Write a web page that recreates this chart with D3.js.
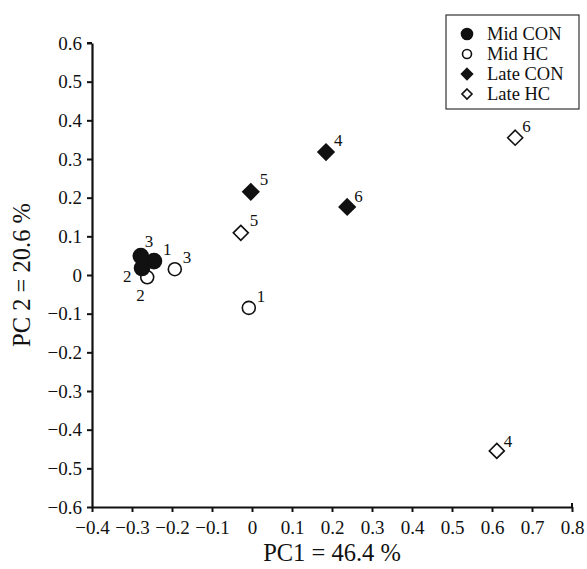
<!DOCTYPE html>
<html>
<head>
<meta charset="utf-8">
<script src="https://cdn.jsdelivr.net/npm/d3@7"></script>
<style>
  body { margin: 0; background: #fff; }
  text { font-family: "Liberation Serif", "Times New Roman", serif; fill: #111; }
</style>
</head>
<body>
<svg id="chart" width="587" height="569"></svg>
<script>
// Series: PC1, PC2 scores with sample labels
const midCon = [
  { x: -0.278, y: 0.049, label: '3', dx: 4, dy: -9 },
  { x: -0.245, y: 0.036, label: '1', dx: 9, dy: -6 },
  { x: -0.275, y: 0.018, label: '2', dx: -19, dy: 14 }
];
const midHc = [
  { x: -0.262, y: -0.006, label: '2', dx: -11, dy: 24 },
  { x: -0.193, y: 0.015, label: '3', dx: 8, dy: -6 },
  { x: -0.008, y: -0.085, label: '1', dx: 8, dy: -6 }
];
const lateCon = [
  { x: 0.185, y: 0.318, label: '4', dx: 8, dy: -6 },
  { x: -0.003, y: 0.215, label: '5', dx: 9, dy: -7 },
  { x: 0.238, y: 0.176, label: '6', dx: 7, dy: -5 }
];
const lateHc = [
  { x: -0.028, y: 0.109, label: '5', dx: 9, dy: -7 },
  { x: 0.658, y: 0.355, label: '6', dx: 7, dy: -6 },
  { x: 0.612, y: -0.455, label: '4', dx: 7, dy: -4 }
];
const xTicks = [-0.4, -0.3, -0.2, -0.1, 0, 0.1, 0.2, 0.3, 0.4, 0.5, 0.6, 0.7, 0.8];
const yTicks = [0.6, 0.5, 0.4, 0.3, 0.2, 0.1, 0, -0.1, -0.2, -0.3, -0.4, -0.5, -0.6];
const legendNames = ['Mid CON', 'Mid HC', 'Late CON', 'Late HC'];

const svg = d3.select('#chart');
const margin = { left: 92, right: 15, top: 43, bottom: 62 };
const width = 587, height = 569;

const x = d3.scaleLinear().domain([-0.4, 0.8]).range([margin.left, width - margin.right]);
const y = d3.scaleLinear().domain([-0.6, 0.6]).range([height - margin.bottom, margin.top]);

const fmt = d => (d === 0 ? '0' : d3.format('.1f')(d));

// Axes
const xAxis = svg.append('g')
  .attr('transform', `translate(0,${y(-0.6)})`)
  .call(d3.axisBottom(x).tickValues(xTicks).tickFormat(fmt).tickSize(5).tickSizeOuter(0));
const yAxis = svg.append('g')
  .attr('transform', `translate(${x(-0.4)},0)`)
  .call(d3.axisLeft(y).tickValues(yTicks).tickFormat(fmt).tickSize(5).tickSizeOuter(0));

[xAxis, yAxis].forEach(a => {
  a.select('.domain').attr('stroke', '#111').attr('stroke-width', 2.2);
  a.selectAll('.tick line').attr('stroke', '#111').attr('stroke-width', 2);
  a.selectAll('.tick text')
    .attr('font-family', '"Liberation Serif", serif')
    .attr('font-size', 19)
    .attr('fill', '#111');
});
xAxis.selectAll('.tick text').attr('dy', '1.0em');
yAxis.selectAll('.tick text').attr('x', -10);

// right end tick at 0.8 rising above axis
svg.append('line')
  .attr('x1', x(0.8)).attr('x2', x(0.8))
  .attr('y1', y(-0.6) - 4).attr('y2', y(-0.6))
  .attr('stroke', '#111').attr('stroke-width', 2);
svg.append('line')
  .attr('x1', x(-0.4) - 5).attr('x2', x(-0.4))
  .attr('y1', y(0.6)).attr('y2', y(0.6))
  .attr('stroke', '#111').attr('stroke-width', 2);

// Axis titles
svg.append('text')
  .attr('x', (x(-0.4) + x(0.8)) / 2)
  .attr('y', 561)
  .attr('text-anchor', 'middle')
  .attr('font-size', 24.5)
  .text('PC1 = 46.4 %');
svg.append('text')
  .attr('transform', `translate(30,${y(0)}) rotate(-90)`)
  .attr('text-anchor', 'middle')
  .attr('font-size', 24.5)
  .text('PC 2 = 20.6 %');

const diamond = s => `M0,${-s}L${s},0L0,${s}L${-s},0Z`;

const series = [
  { data: midCon, shape: 'circle', fill: '#111', size: 7.5 },
  { data: midHc, shape: 'circle', fill: '#fff', size: 6.5 },
  { data: lateCon, shape: 'diamond', fill: '#111', size: 8 },
  { data: lateHc, shape: 'diamond', fill: '#fff', size: 7.5 }
];

const plot = svg.append('g');
// draw open markers first, filled on top
[series[1], series[3], series[0], series[2]].forEach(s => {
  const g = plot.selectAll(null).data(s.data).enter().append('g')
    .attr('transform', d => `translate(${x(d.x)},${y(d.y)})`);
  if (s.shape === 'circle') {
    g.append('circle').attr('r', s.size)
      .attr('fill', s.fill).attr('stroke', '#111').attr('stroke-width', 1.6);
  } else {
    g.append('path').attr('d', diamond(s.size))
      .attr('fill', s.fill).attr('stroke', '#111').attr('stroke-width', 1.6);
  }
});

// Point labels
series.forEach(s => {
  plot.selectAll(null).data(s.data).enter().append('text')
    .attr('x', d => x(d.x) + d.dx)
    .attr('y', d => y(d.y) + d.dy)
    .attr('font-size', 17)
    .text(d => d.label);
});

// Legend
const legend = svg.append('g');
legend.append('rect')
  .attr('x', 446).attr('y', 15).attr('width', 133).attr('height', 94)
  .attr('fill', '#fff').attr('stroke', '#333').attr('stroke-width', 1.2);
const legendSym = [
  { shape: 'circle', fill: '#111', size: 5.5 },
  { shape: 'circle', fill: '#fff', size: 4.5 },
  { shape: 'diamond', fill: '#111', size: 5.5 },
  { shape: 'diamond', fill: '#fff', size: 5 }
];
legendNames.forEach((name, i) => {
  const ly = 34 + i * 20;
  const item = legend.append('g').attr('transform', `translate(467,${ly})`);
  const sym = legendSym[i];
  if (sym.shape === 'circle') {
    item.append('circle').attr('r', sym.size)
      .attr('fill', sym.fill).attr('stroke', '#111').attr('stroke-width', 1.6);
  } else {
    item.append('path').attr('d', diamond(sym.size))
      .attr('fill', sym.fill).attr('stroke', '#111').attr('stroke-width', 1.6);
  }
  item.append('text')
    .attr('x', 20).attr('y', 6)
    .attr('font-size', 18.5)
    .text(name);
});
</script>
</body>
</html>
